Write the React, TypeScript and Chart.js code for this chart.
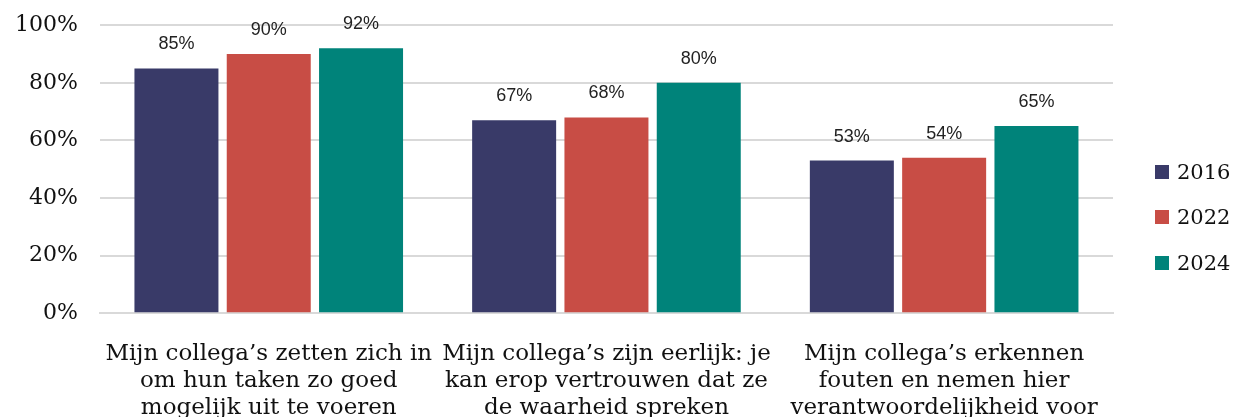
import React, { useEffect, useRef } from "react";
import { Chart, registerables } from "chart.js";

Chart.register(...registerables);

const categories: string[][] = [
  ["Mijn collega’s zetten zich in", "om hun taken zo goed", "mogelijk uit te voeren"],
  ["Mijn collega’s zijn eerlijk: je", "kan erop vertrouwen dat ze", "de waarheid spreken"],
  ["Mijn collega’s erkennen", "fouten en nemen hier", "verantwoordelijkheid voor"],
];
const seriesNames = ["2016", "2022", "2024"];
const values2016 = [85, 67, 53];
const values2022 = [90, 68, 54];
const values2024 = [92, 80, 65];
const colors = ["#393a68", "#c84d45", "#00837a"];
const yTicks = [0, 20, 40, 60, 80, 100];

const serif = "'DejaVu Serif', serif";

const labelPlugin = {
  id: "barLabels",
  afterDatasetsDraw(chart: any) {
    const ctx = chart.ctx;
    ctx.save();
    ctx.font = "18px 'Liberation Sans', Arial, sans-serif";
    ctx.fillStyle = "#222";
    ctx.textAlign = "center";
    ctx.textBaseline = "middle";
    chart.data.datasets.forEach((ds: any, i: number) => {
      const meta = chart.getDatasetMeta(i);
      meta.data.forEach((el: any, j: number) => {
        ctx.fillText(ds.data[j] + "%", el.x, el.y - 24);
      });
    });
    ctx.restore();
  },
};

export default function App() {
  const ref = useRef<HTMLCanvasElement>(null);
  useEffect(() => {
    document.body.style.margin = "0";
    document.body.style.overflow = "hidden";
    const data = [values2016, values2022, values2024];
    const chart = new Chart(ref.current!, {
      type: "bar",
      data: {
        labels: categories,
        datasets: seriesNames.map((n, i) => ({
          label: n,
          data: data[i],
          backgroundColor: colors[i],
          categoryPercentage: 0.82,
          barPercentage: 0.91,
        })),
      },
      plugins: [labelPlugin],
      options: {
        animation: false,
        responsive: false,
        maintainAspectRatio: false,
        layout: { padding: { top: 3, right: 122, left: -7, bottom: 0 } },
        plugins: {
          tooltip: { enabled: false },
          legend: { display: false },
        },
        scales: {
          x: {
            grid: { display: false },
            border: { color: "#d9d9d9", width: 2 },
            ticks: {
              color: "#111",
              maxRotation: 0,
              autoSkip: false,
              padding: 19,
              font: { family: serif, size: 23, lineHeight: 1.17 },
            },
          },
          y: {
            min: 0,
            max: 100,
            afterBuildTicks: (s: any) => {
              s.ticks = yTicks.map((v) => ({ value: v }));
            },
            grid: { color: "#d9d9d9", lineWidth: 2, drawTicks: false },
            border: { display: false },
            ticks: {
              color: "#111",
              padding: 22,
              font: { family: serif, size: 22 },
              callback: (v: any) => v + "%",
            },
          },
        },
      },
    });
    return () => chart.destroy();
  }, []);
  const legendTops = [172, 217, 263];
  return (
    <div style={{ position: "relative", width: 1235, height: 417, overflow: "hidden" }}>
      <canvas
        ref={ref}
        width={1235}
        height={450}
        style={{ display: "block", position: "absolute", left: 0, top: -10 }}
      />
      {seriesNames.map((n, i) => (
        <div
          key={n}
          style={{
            position: "absolute",
            left: 1155,
            top: legendTops[i] - 14,
            height: 28,
            display: "flex",
            alignItems: "center",
            fontFamily: serif,
            fontSize: 21,
            color: "#111",
            whiteSpace: "nowrap",
          }}
        >
          <span style={{ display: "inline-block", width: 14, height: 14, background: colors[i], marginRight: 8 }} />
          {n}
        </div>
      ))}
    </div>
  );
}
